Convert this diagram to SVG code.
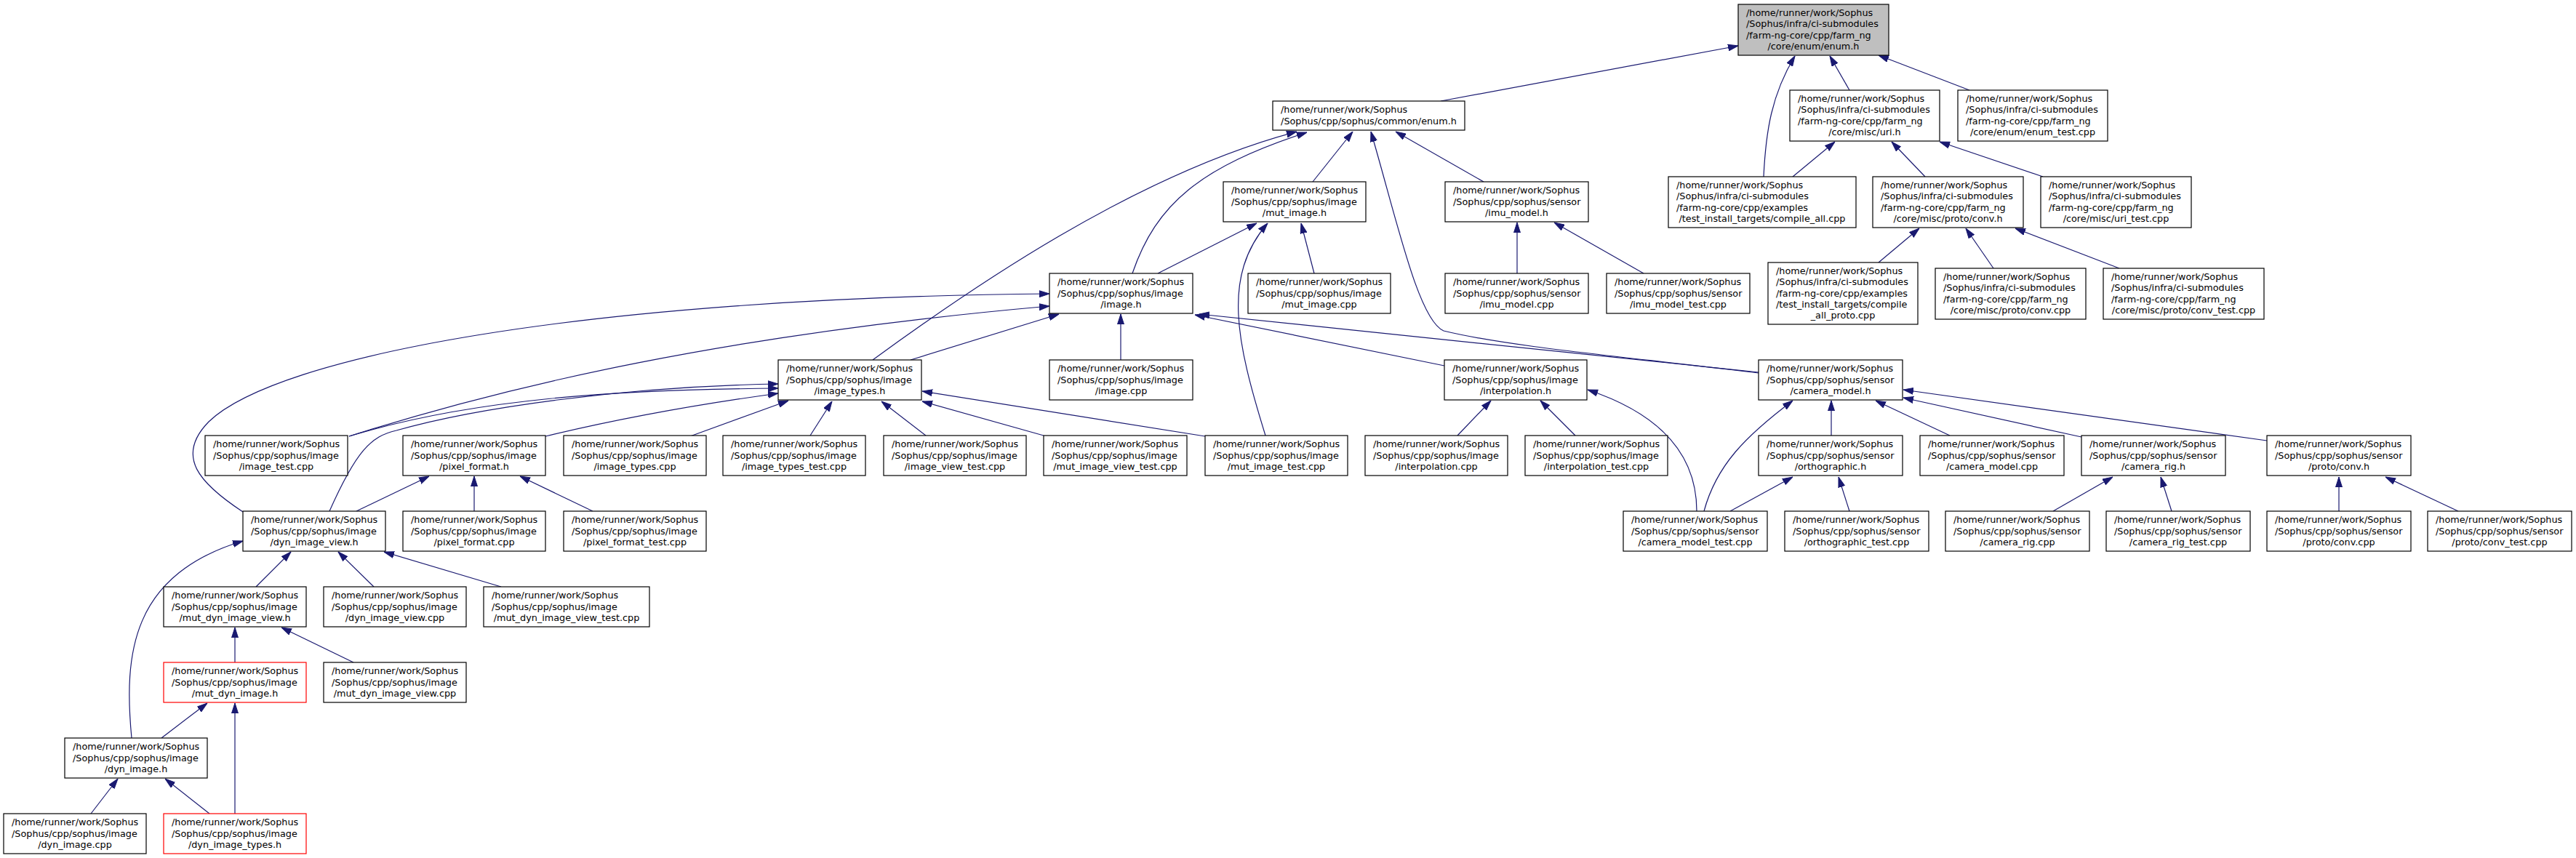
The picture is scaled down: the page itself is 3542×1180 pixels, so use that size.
<svg xmlns="http://www.w3.org/2000/svg" width="3542" height="1180" viewBox="0 0 3542 1180">
<style>
.node rect{fill:#ffffff;stroke:#000000;stroke-width:1.2}
.root rect{fill:#bfbfbf}
.trunc rect{stroke:#ff0000}
text{font-family:"DejaVu Sans","Liberation Sans",sans-serif;font-size:12.8px;fill:#000000}
.c{text-anchor:middle}
.edges path{fill:none;stroke:#191970;stroke-width:1.2;marker-end:url(#arr)}
</style>
<defs>
<marker id="arr" markerUnits="userSpaceOnUse" markerWidth="14" markerHeight="10" viewBox="0 0 14 10" refX="14" refY="5" orient="auto">
<path d="M0,0.5 L14,5 L0,9.5 z" fill="#191970" stroke="#191970" stroke-width="1"/>
</marker>
</defs>
<rect x="0" y="0" width="3542" height="1180" fill="#ffffff"/>
<g id="edges" class="edges">
<path d="M1981,139 L2390,63"/>
<path d="M2425,243 C2428,180 2436,130 2468,77"/>
<path d="M2543,124 L2516,77"/>
<path d="M2708,124 L2583,76"/>
<path d="M2465,243 L2523,195"/>
<path d="M2647,243 L2601,195"/>
<path d="M2809,243 L2667,195"/>
<path d="M2583,361 L2639,314"/>
<path d="M2741,369 L2703,314"/>
<path d="M2914,369 L2771,314"/>
<path d="M1200,495 C1330,400 1560,240 1783,181"/>
<path d="M1557,376 C1590,280 1650,230 1797,182"/>
<path d="M1805,250 L1860,181"/>
<path d="M2418,513 C2250,492 2080,478 1985,455 C1950,440 1920,300 1885,181"/>
<path d="M2040,250 L1919,181"/>
<path d="M2086,376 L2086,306"/>
<path d="M2260,376 L2137,306"/>
<path d="M1592,376 L1728,307"/>
<path d="M1740,599 C1700,470 1680,380 1743,307"/>
<path d="M1807,376 L1789,307"/>
<path d="M1541,495 L1541,432"/>
<path d="M1252,495 L1456,432"/>
<path d="M1986,503 L1643,433"/>
<path d="M2418,512 L1649,432"/>
<path d="M334,704 C275,665 240,628 287,580 C380,490 800,410 1443,404"/>
<path d="M480,600 C700,530 1000,460 1443,421"/>
<path d="M480,600 C650,548 850,536 1070,534"/>
<path d="M453,703 C490,620 510,600 545,592 C650,562 850,532 1070,528"/>
<path d="M750,600 C850,576 960,556 1070,541"/>
<path d="M949,600 L1084,551"/>
<path d="M1114,599 L1144,552"/>
<path d="M1273,599 L1212,552"/>
<path d="M1435,599 L1268,552"/>
<path d="M1657,600 L1268,538"/>
<path d="M490,703 L590,655"/>
<path d="M652,703 L652,655"/>
<path d="M815,703 L715,655"/>
<path d="M352,807 L400,759"/>
<path d="M514,807 L465,759"/>
<path d="M689,807 L528,759"/>
<path d="M181,1015 C170,900 180,790 334,744"/>
<path d="M323,911 L323,863"/>
<path d="M486,911 L387,863"/>
<path d="M222,1015 L285,967"/>
<path d="M323,1119 L323,967"/>
<path d="M125,1119 L162,1071"/>
<path d="M288,1119 L227,1071"/>
<path d="M2004,599 L2050,551"/>
<path d="M2166,599 L2118,551"/>
<path d="M2333,703 C2333,640 2300,575 2183,536"/>
<path d="M2343,703 C2360,640 2400,600 2465,551"/>
<path d="M2518,599 L2518,551"/>
<path d="M2681,599 L2579,551"/>
<path d="M2862,601 L2617,547"/>
<path d="M3117,606 L2617,536"/>
<path d="M2379,703 L2465,656"/>
<path d="M2543,703 L2528,656"/>
<path d="M2823,703 L2905,656"/>
<path d="M2986,703 L2971,656"/>
<path d="M3216,703 L3216,656"/>
<path d="M3380,703 L3280,656"/>
</g>

<g id="root" class="node root"><rect x="2390" y="6" width="207" height="70"/>
<text x="2401" y="22">/home/runner/work/Sophus</text><text x="2401" y="37.3">/Sophus/infra/ci-submodules</text><text x="2401" y="52.7">/farm-ng-core/cpp/farm_ng</text><text class="c" x="2493.5" y="68">/core/enum/enum.h</text></g>

<g id="common_enum_h" class="node"><rect x="1750" y="139" width="264" height="40"/>
<text x="1761" y="155.4">/home/runner/work/Sophus</text><text class="c" x="1882" y="170.7">/Sophus/cpp/sophus/common/enum.h</text></g>

<g id="uri_h" class="node"><rect x="2461" y="124" width="206" height="70"/>
<text x="2472" y="140">/home/runner/work/Sophus</text><text x="2472" y="155.3">/Sophus/infra/ci-submodules</text><text x="2472" y="170.7">/farm-ng-core/cpp/farm_ng</text><text class="c" x="2564" y="186">/core/misc/uri.h</text></g>

<g id="enum_test_cpp" class="node"><rect x="2692" y="124" width="206" height="70"/>
<text x="2703" y="140">/home/runner/work/Sophus</text><text x="2703" y="155.3">/Sophus/infra/ci-submodules</text><text x="2703" y="170.7">/farm-ng-core/cpp/farm_ng</text><text class="c" x="2795" y="186">/core/enum/enum_test.cpp</text></g>

<g id="compile_all_cpp" class="node"><rect x="2294" y="243" width="258" height="70"/>
<text x="2305" y="259">/home/runner/work/Sophus</text><text x="2305" y="274.3">/Sophus/infra/ci-submodules</text><text x="2305" y="289.7">/farm-ng-core/cpp/examples</text><text class="c" x="2423" y="305">/test_install_targets/compile_all.cpp</text></g>

<g id="misc_proto_conv_h" class="node"><rect x="2575" y="243" width="207" height="70"/>
<text x="2586" y="259">/home/runner/work/Sophus</text><text x="2586" y="274.3">/Sophus/infra/ci-submodules</text><text x="2586" y="289.7">/farm-ng-core/cpp/farm_ng</text><text class="c" x="2678.5" y="305">/core/misc/proto/conv.h</text></g>

<g id="uri_test_cpp" class="node"><rect x="2806" y="243" width="207" height="70"/>
<text x="2817" y="259">/home/runner/work/Sophus</text><text x="2817" y="274.3">/Sophus/infra/ci-submodules</text><text x="2817" y="289.7">/farm-ng-core/cpp/farm_ng</text><text class="c" x="2909.5" y="305">/core/misc/uri_test.cpp</text></g>

<g id="compile_all_proto_cpp" class="node"><rect x="2431" y="361" width="206" height="85"/>
<text x="2442" y="376.9">/home/runner/work/Sophus</text><text x="2442" y="392.2">/Sophus/infra/ci-submodules</text><text x="2442" y="407.6">/farm-ng-core/cpp/examples</text><text x="2442" y="422.9">/test_install_targets/compile</text><text class="c" x="2534" y="438.2">_all_proto.cpp</text></g>

<g id="misc_proto_conv_cpp" class="node"><rect x="2661" y="369" width="207" height="70"/>
<text x="2672" y="385">/home/runner/work/Sophus</text><text x="2672" y="400.3">/Sophus/infra/ci-submodules</text><text x="2672" y="415.7">/farm-ng-core/cpp/farm_ng</text><text class="c" x="2764.5" y="431">/core/misc/proto/conv.cpp</text></g>

<g id="misc_proto_conv_test_cpp" class="node"><rect x="2892" y="369" width="221" height="70"/>
<text x="2903" y="385">/home/runner/work/Sophus</text><text x="2903" y="400.3">/Sophus/infra/ci-submodules</text><text x="2903" y="415.7">/farm-ng-core/cpp/farm_ng</text><text class="c" x="3002.5" y="431">/core/misc/proto/conv_test.cpp</text></g>

<g id="mut_image_h" class="node"><rect x="1682" y="250" width="196" height="55"/>
<text x="1693" y="266.2">/home/runner/work/Sophus</text><text x="1693" y="281.5">/Sophus/cpp/sophus/image</text><text class="c" x="1780" y="296.9">/mut_image.h</text></g>

<g id="imu_model_h" class="node"><rect x="1987" y="250" width="197" height="55"/>
<text x="1998" y="266.2">/home/runner/work/Sophus</text><text x="1998" y="281.5">/Sophus/cpp/sophus/sensor</text><text class="c" x="2085.5" y="296.9">/imu_model.h</text></g>

<g id="image_h" class="node"><rect x="1443" y="376" width="197" height="55"/>
<text x="1454" y="392.2">/home/runner/work/Sophus</text><text x="1454" y="407.5">/Sophus/cpp/sophus/image</text><text class="c" x="1541.5" y="422.9">/image.h</text></g>

<g id="mut_image_cpp" class="node"><rect x="1716" y="376" width="196" height="55"/>
<text x="1727" y="392.2">/home/runner/work/Sophus</text><text x="1727" y="407.5">/Sophus/cpp/sophus/image</text><text class="c" x="1814" y="422.9">/mut_image.cpp</text></g>

<g id="imu_model_cpp" class="node"><rect x="1987" y="376" width="197" height="55"/>
<text x="1998" y="392.2">/home/runner/work/Sophus</text><text x="1998" y="407.5">/Sophus/cpp/sophus/sensor</text><text class="c" x="2085.5" y="422.9">/imu_model.cpp</text></g>

<g id="imu_model_test_cpp" class="node"><rect x="2209" y="376" width="197" height="55"/>
<text x="2220" y="392.2">/home/runner/work/Sophus</text><text x="2220" y="407.5">/Sophus/cpp/sophus/sensor</text><text class="c" x="2307.5" y="422.9">/imu_model_test.cpp</text></g>

<g id="image_types_h" class="node"><rect x="1070" y="495" width="197" height="55"/>
<text x="1081" y="511.2">/home/runner/work/Sophus</text><text x="1081" y="526.5">/Sophus/cpp/sophus/image</text><text class="c" x="1168.5" y="541.9">/image_types.h</text></g>

<g id="image_cpp" class="node"><rect x="1443" y="495" width="197" height="55"/>
<text x="1454" y="511.2">/home/runner/work/Sophus</text><text x="1454" y="526.5">/Sophus/cpp/sophus/image</text><text class="c" x="1541.5" y="541.9">/image.cpp</text></g>

<g id="interpolation_h" class="node"><rect x="1986" y="495" width="196" height="55"/>
<text x="1997" y="511.2">/home/runner/work/Sophus</text><text x="1997" y="526.5">/Sophus/cpp/sophus/image</text><text class="c" x="2084" y="541.9">/interpolation.h</text></g>

<g id="camera_model_h" class="node"><rect x="2418" y="495" width="198" height="55"/>
<text x="2429" y="511.2">/home/runner/work/Sophus</text><text x="2429" y="526.5">/Sophus/cpp/sophus/sensor</text><text class="c" x="2517" y="541.9">/camera_model.h</text></g>

<g id="image_test_cpp" class="node"><rect x="282" y="599" width="196" height="55"/>
<text x="293" y="615.2">/home/runner/work/Sophus</text><text x="293" y="630.5">/Sophus/cpp/sophus/image</text><text class="c" x="380" y="645.9">/image_test.cpp</text></g>

<g id="pixel_format_h" class="node"><rect x="554" y="599" width="196" height="55"/>
<text x="565" y="615.2">/home/runner/work/Sophus</text><text x="565" y="630.5">/Sophus/cpp/sophus/image</text><text class="c" x="652" y="645.9">/pixel_format.h</text></g>

<g id="image_types_cpp" class="node"><rect x="775" y="599" width="196" height="55"/>
<text x="786" y="615.2">/home/runner/work/Sophus</text><text x="786" y="630.5">/Sophus/cpp/sophus/image</text><text class="c" x="873" y="645.9">/image_types.cpp</text></g>

<g id="image_types_test_cpp" class="node"><rect x="994" y="599" width="196" height="55"/>
<text x="1005" y="615.2">/home/runner/work/Sophus</text><text x="1005" y="630.5">/Sophus/cpp/sophus/image</text><text class="c" x="1092" y="645.9">/image_types_test.cpp</text></g>

<g id="image_view_test_cpp" class="node"><rect x="1215" y="599" width="196" height="55"/>
<text x="1226" y="615.2">/home/runner/work/Sophus</text><text x="1226" y="630.5">/Sophus/cpp/sophus/image</text><text class="c" x="1313" y="645.9">/image_view_test.cpp</text></g>

<g id="mut_image_view_test_cpp" class="node"><rect x="1435" y="599" width="197" height="55"/>
<text x="1446" y="615.2">/home/runner/work/Sophus</text><text x="1446" y="630.5">/Sophus/cpp/sophus/image</text><text class="c" x="1533.5" y="645.9">/mut_image_view_test.cpp</text></g>

<g id="mut_image_test_cpp" class="node"><rect x="1657" y="599" width="196" height="55"/>
<text x="1668" y="615.2">/home/runner/work/Sophus</text><text x="1668" y="630.5">/Sophus/cpp/sophus/image</text><text class="c" x="1755" y="645.9">/mut_image_test.cpp</text></g>

<g id="interpolation_cpp" class="node"><rect x="1877" y="599" width="196" height="55"/>
<text x="1888" y="615.2">/home/runner/work/Sophus</text><text x="1888" y="630.5">/Sophus/cpp/sophus/image</text><text class="c" x="1975" y="645.9">/interpolation.cpp</text></g>

<g id="interpolation_test_cpp" class="node"><rect x="2097" y="599" width="196" height="55"/>
<text x="2108" y="615.2">/home/runner/work/Sophus</text><text x="2108" y="630.5">/Sophus/cpp/sophus/image</text><text class="c" x="2195" y="645.9">/interpolation_test.cpp</text></g>

<g id="orthographic_h" class="node"><rect x="2418" y="599" width="198" height="55"/>
<text x="2429" y="615.2">/home/runner/work/Sophus</text><text x="2429" y="630.5">/Sophus/cpp/sophus/sensor</text><text class="c" x="2517" y="645.9">/orthographic.h</text></g>

<g id="camera_model_cpp" class="node"><rect x="2640" y="599" width="198" height="55"/>
<text x="2651" y="615.2">/home/runner/work/Sophus</text><text x="2651" y="630.5">/Sophus/cpp/sophus/sensor</text><text class="c" x="2739" y="645.9">/camera_model.cpp</text></g>

<g id="camera_rig_h" class="node"><rect x="2862" y="599" width="198" height="55"/>
<text x="2873" y="615.2">/home/runner/work/Sophus</text><text x="2873" y="630.5">/Sophus/cpp/sophus/sensor</text><text class="c" x="2961" y="645.9">/camera_rig.h</text></g>

<g id="sensor_proto_conv_h" class="node"><rect x="3117" y="599" width="198" height="55"/>
<text x="3128" y="615.2">/home/runner/work/Sophus</text><text x="3128" y="630.5">/Sophus/cpp/sophus/sensor</text><text class="c" x="3216" y="645.9">/proto/conv.h</text></g>

<g id="dyn_image_view_h" class="node"><rect x="334" y="703" width="196" height="55"/>
<text x="345" y="719.2">/home/runner/work/Sophus</text><text x="345" y="734.5">/Sophus/cpp/sophus/image</text><text class="c" x="432" y="749.9">/dyn_image_view.h</text></g>

<g id="pixel_format_cpp" class="node"><rect x="554" y="703" width="196" height="55"/>
<text x="565" y="719.2">/home/runner/work/Sophus</text><text x="565" y="734.5">/Sophus/cpp/sophus/image</text><text class="c" x="652" y="749.9">/pixel_format.cpp</text></g>

<g id="pixel_format_test_cpp" class="node"><rect x="775" y="703" width="196" height="55"/>
<text x="786" y="719.2">/home/runner/work/Sophus</text><text x="786" y="734.5">/Sophus/cpp/sophus/image</text><text class="c" x="873" y="749.9">/pixel_format_test.cpp</text></g>

<g id="camera_model_test_cpp" class="node"><rect x="2232" y="703" width="198" height="55"/>
<text x="2243" y="719.2">/home/runner/work/Sophus</text><text x="2243" y="734.5">/Sophus/cpp/sophus/sensor</text><text class="c" x="2331" y="749.9">/camera_model_test.cpp</text></g>

<g id="orthographic_test_cpp" class="node"><rect x="2454" y="703" width="198" height="55"/>
<text x="2465" y="719.2">/home/runner/work/Sophus</text><text x="2465" y="734.5">/Sophus/cpp/sophus/sensor</text><text class="c" x="2553" y="749.9">/orthographic_test.cpp</text></g>

<g id="camera_rig_cpp" class="node"><rect x="2675" y="703" width="198" height="55"/>
<text x="2686" y="719.2">/home/runner/work/Sophus</text><text x="2686" y="734.5">/Sophus/cpp/sophus/sensor</text><text class="c" x="2774" y="749.9">/camera_rig.cpp</text></g>

<g id="camera_rig_test_cpp" class="node"><rect x="2896" y="703" width="198" height="55"/>
<text x="2907" y="719.2">/home/runner/work/Sophus</text><text x="2907" y="734.5">/Sophus/cpp/sophus/sensor</text><text class="c" x="2995" y="749.9">/camera_rig_test.cpp</text></g>

<g id="sensor_proto_conv_cpp" class="node"><rect x="3117" y="703" width="198" height="55"/>
<text x="3128" y="719.2">/home/runner/work/Sophus</text><text x="3128" y="734.5">/Sophus/cpp/sophus/sensor</text><text class="c" x="3216" y="749.9">/proto/conv.cpp</text></g>

<g id="sensor_proto_conv_test_cpp" class="node"><rect x="3338" y="703" width="198" height="55"/>
<text x="3349" y="719.2">/home/runner/work/Sophus</text><text x="3349" y="734.5">/Sophus/cpp/sophus/sensor</text><text class="c" x="3437" y="749.9">/proto/conv_test.cpp</text></g>

<g id="mut_dyn_image_view_h" class="node"><rect x="225" y="807" width="196" height="55"/>
<text x="236" y="823.2">/home/runner/work/Sophus</text><text x="236" y="838.5">/Sophus/cpp/sophus/image</text><text class="c" x="323" y="853.9">/mut_dyn_image_view.h</text></g>

<g id="dyn_image_view_cpp" class="node"><rect x="445" y="807" width="196" height="55"/>
<text x="456" y="823.2">/home/runner/work/Sophus</text><text x="456" y="838.5">/Sophus/cpp/sophus/image</text><text class="c" x="543" y="853.9">/dyn_image_view.cpp</text></g>

<g id="mut_dyn_image_view_test_cpp" class="node"><rect x="665" y="807" width="228" height="55"/>
<text x="676" y="823.2">/home/runner/work/Sophus</text><text x="676" y="838.5">/Sophus/cpp/sophus/image</text><text class="c" x="779" y="853.9">/mut_dyn_image_view_test.cpp</text></g>

<g id="mut_dyn_image_h" class="node trunc"><rect x="225" y="911" width="196" height="55"/>
<text x="236" y="927.2">/home/runner/work/Sophus</text><text x="236" y="942.5">/Sophus/cpp/sophus/image</text><text class="c" x="323" y="957.9">/mut_dyn_image.h</text></g>

<g id="mut_dyn_image_view_cpp" class="node"><rect x="445" y="911" width="196" height="55"/>
<text x="456" y="927.2">/home/runner/work/Sophus</text><text x="456" y="942.5">/Sophus/cpp/sophus/image</text><text class="c" x="543" y="957.9">/mut_dyn_image_view.cpp</text></g>

<g id="dyn_image_h" class="node"><rect x="89" y="1015" width="196" height="55"/>
<text x="100" y="1031.2">/home/runner/work/Sophus</text><text x="100" y="1046.5">/Sophus/cpp/sophus/image</text><text class="c" x="187" y="1061.9">/dyn_image.h</text></g>

<g id="dyn_image_cpp" class="node"><rect x="5" y="1119" width="196" height="55"/>
<text x="16" y="1135.2">/home/runner/work/Sophus</text><text x="16" y="1150.5">/Sophus/cpp/sophus/image</text><text class="c" x="103" y="1165.9">/dyn_image.cpp</text></g>

<g id="dyn_image_types_h" class="node trunc"><rect x="225" y="1119" width="196" height="55"/>
<text x="236" y="1135.2">/home/runner/work/Sophus</text><text x="236" y="1150.5">/Sophus/cpp/sophus/image</text><text class="c" x="323" y="1165.9">/dyn_image_types.h</text></g>
</svg>
